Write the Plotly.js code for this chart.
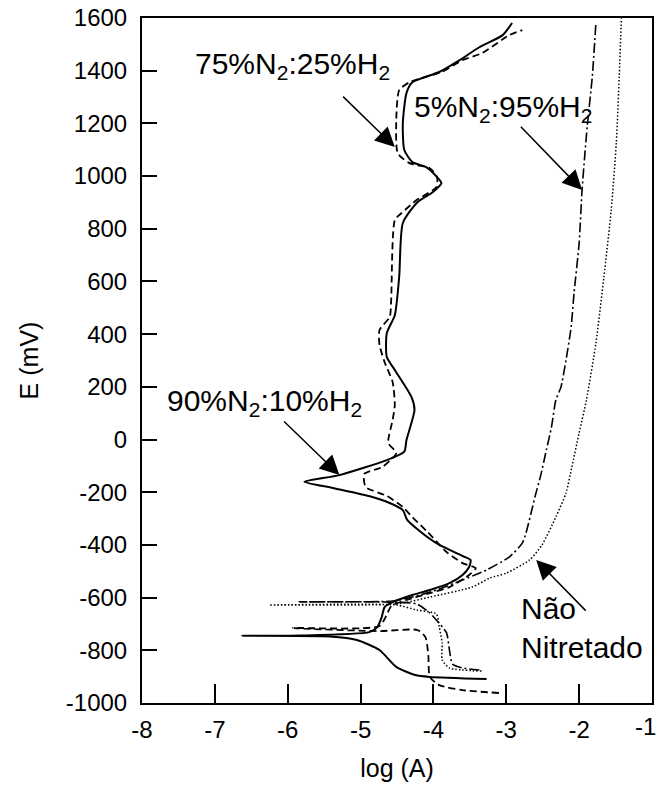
<!DOCTYPE html>
<html>
<head>
<meta charset="utf-8">
<script src="https://cdn.plot.ly/plotly-3.0.1.min.js"></script>
<style>html,body{margin:0;padding:0;background:#fff;}#chart{width:660px;height:802px;}</style>
</head>
<body>
<div id="chart"></div>
<script>
// 90%N2:10%H2 (solid)
const solidLogA = [-3.27,-4.05,-4.25,-4.51,-4.74,-5.05,-5.42,-6.63,-5.84,-4.88,-4.77,-4.71,-4.67,-4.56,-4.29,-4.05,-3.78,-3.60,-3.51,-3.49,-3.60,-3.96,-4.19,-4.36,-4.42,-4.60,-4.84,-5.38,-5.77,-5.29,-4.64,-4.40,-4.37,-4.26,-4.30,-4.53,-4.64,-4.64,-4.53,-4.47,-4.42,-4.22,-4.01,-3.89,-3.95,-4.10,-4.29,-4.40,-4.42,-4.37,-4.29,-3.92,-3.64,-3.37,-3.05,-2.92];
const solidE    = [-909,-901,-894,-863,-799,-761,-748,-745,-744,-731,-712,-674,-636,-617,-590,-571,-545,-514,-484,-457,-442,-393,-347,-305,-268,-241,-218,-184,-160,-135,-78,-46,-2,112,161,264,313,404,472,617,822,901,939,973,996,1034,1053,1099,1201,1315,1356,1395,1440,1489,1535,1581];

// 75%N2:25%H2 (dashed)
const dashLogA = [-3.10,-3.60,-3.92,-4.05,-4.07,-4.11,-4.22,-4.74,-5.93,-4.74,-4.63,-4.58,-4.37,-4.05,-3.78,-3.51,-3.42,-3.60,-3.82,-4.08,-4.29,-4.42,-4.64,-4.93,-4.95,-4.70,-4.51,-4.62,-4.56,-4.53,-4.56,-4.67,-4.74,-4.74,-4.60,-4.58,-4.53,-4.44,-4.23,-3.96,-3.95,-4.05,-4.33,-4.49,-4.51,-4.47,-4.33,-3.89,-3.60,-3.33,-2.96,-2.78];
const dashE    = [-962,-951,-932,-901,-818,-750,-723,-727,-715,-708,-658,-632,-609,-583,-560,-514,-488,-469,-427,-351,-294,-256,-214,-180,-131,-104,-51,-13,74,131,218,294,359,416,465,529,833,859,909,958,996,1030,1049,1087,1212,1326,1356,1395,1440,1467,1535,1554];

// 5%N2:95%H2 (dash-dot)
const ddLogA = [-3.37,-3.60,-3.74,-3.78,-3.82,-3.96,-4.05,-4.23,-4.56,-5.84,-4.56,-4.29,-3.96,-3.60,-3.27,-2.96,-2.78,-2.73,-2.66,-2.60,-2.53,-2.45,-2.38,-2.32,-2.25,-2.18,-2.11,-2.07,-2.00,-1.96,-1.89,-1.82,-1.77];
const ddE    = [-875,-867,-852,-799,-734,-685,-658,-624,-617,-616,-613,-598,-571,-533,-495,-446,-393,-355,-279,-211,-139,-40,47,150,199,302,427,556,746,947,1186,1376,1581];

// Não Nitretado (dotted)
const nnLogA = [-3.34,-3.78,-3.88,-3.88,-3.92,-3.96,-4.23,-4.51,-6.25,-4.51,-4.05,-3.47,-3.23,-3.00,-2.68,-2.51,-2.32,-2.18,-2.10,-2.00,-1.90,-1.77,-1.66,-1.56,-1.49,-1.45,-1.42];
const nnE    = [-879,-867,-837,-772,-712,-662,-647,-628,-628,-624,-598,-560,-526,-507,-457,-400,-294,-203,-104,25,150,366,617,871,1125,1376,1600];

const xTicks = [-8,-7,-6,-5,-4,-3,-2,-1];
const yTicks = [-1000,-800,-600,-400,-200,0,200,400,600,800,1000,1200,1400,1600];

const labels = ['90%N<sub>2</sub>:10%H<sub>2</sub>','75%N<sub>2</sub>:25%H<sub>2</sub>','5%N<sub>2</sub>:95%H<sub>2</sub>','Não<br>Nitretado'];

const traces = [
  {x: solidLogA, y: solidE, mode:'lines', line:{color:'#000', width:2, shape:'spline', smoothing:0.6}, name: labels[0]},
  {x: dashLogA, y: dashE, mode:'lines', line:{color:'#000', width:1.8, dash:'7px,4px', shape:'spline', smoothing:0.6}, name: labels[1]},
  {x: ddLogA, y: ddE, mode:'lines', line:{color:'#000', width:1.6, dash:'10px,3px,2px,3px', shape:'spline', smoothing:0.6}, name: labels[2]},
  {x: nnLogA, y: nnE, mode:'lines', line:{color:'#000', width:1.5, dash:'1.5px,2px', shape:'spline', smoothing:0.6}, name: labels[3]}
];

const F = 'Liberation Sans, Arial, sans-serif';
const textFont = {family:F, size:30, color:'#000'};
const tickFont = {family:F, size:24, color:'#000'};
const arrowCommon = {xref:'x', yref:'y', axref:'x', ayref:'y', text:'', showarrow:true, arrowhead:2, arrowsize:2.6, arrowwidth:1.5, arrowcolor:'#000'};

// the last x tick label sits at the page edge: draw it right-aligned so it is not cut
const lastX = xTicks[xTicks.length - 1];

const layout = {
  width:660, height:802,
  margin:{l:142, r:8, t:18, b:99},
  paper_bgcolor:'#fff', plot_bgcolor:'#fff',
  showlegend:false,
  font:{family:F, color:'#000'},
  xaxis:{
    range:[-8,-1], tickvals:xTicks, ticktext:xTicks.map(v => v === lastX ? '' : String(v)),
    ticks:'inside', ticklen:19, tickwidth:2, tickcolor:'#000',
    showline:true, linewidth:2, linecolor:'#000', mirror:true,
    showgrid:false, zeroline:false,
    tickfont:tickFont,
    ticklabelstandoff:4,
    title:{text:'log (A)', font:{family:F, size:25, color:'#000'}, standoff:18}
  },
  yaxis:{
    range:[-1000,1600], tickvals:yTicks, ticktext:yTicks.map(String),
    ticks:'inside', ticklen:15, tickwidth:2, tickcolor:'#000',
    showline:true, linewidth:2, linecolor:'#000', mirror:true,
    showgrid:false, zeroline:false,
    tickfont:tickFont,
    ticklabeloverflow:'allow',
    ticklabelstandoff:8,
    title:{text:'E (mV)', font:{family:F, size:25, color:'#000'}, standoff:20}
  },
  annotations:[
    {xref:'x', yref:'paper', x:lastX, y:0, xanchor:'right', yanchor:'top', xshift:6, yshift:-8, text:String(lastX), showarrow:false, font:tickFont},
    {xref:'x', yref:'y', x:-7.685, y:139, xanchor:'left', yanchor:'middle', text:labels[0], showarrow:false, font:textFont},
    Object.assign({x:-5.29, y:-135, ax:-6.07, ay:74}, arrowCommon),
    {xref:'x', yref:'y', x:-4.575, y:1420, xanchor:'right', yanchor:'middle', text:labels[1], showarrow:false, font:textFont},
    Object.assign({x:-4.53, y:1110, ax:-5.26, ay:1307}, arrowCommon),
    {xref:'x', yref:'y', x:-4.30, y:1258, xanchor:'left', yanchor:'middle', text:labels[2], showarrow:false, font:textFont},
    Object.assign({x:-1.96, y:947, ax:-2.82, ay:1193}, arrowCommon),
    {xref:'x', yref:'y', x:-2.82, y:-715, xanchor:'left', yanchor:'middle', align:'left', text:labels[3], showarrow:false, font:textFont},
    Object.assign({x:-2.59, y:-457, ax:-1.89, ay:-655}, arrowCommon)
  ]
};

Plotly.newPlot('chart', traces, layout, {staticPlot:true, displayModeBar:false});
</script>
</body>
</html>
